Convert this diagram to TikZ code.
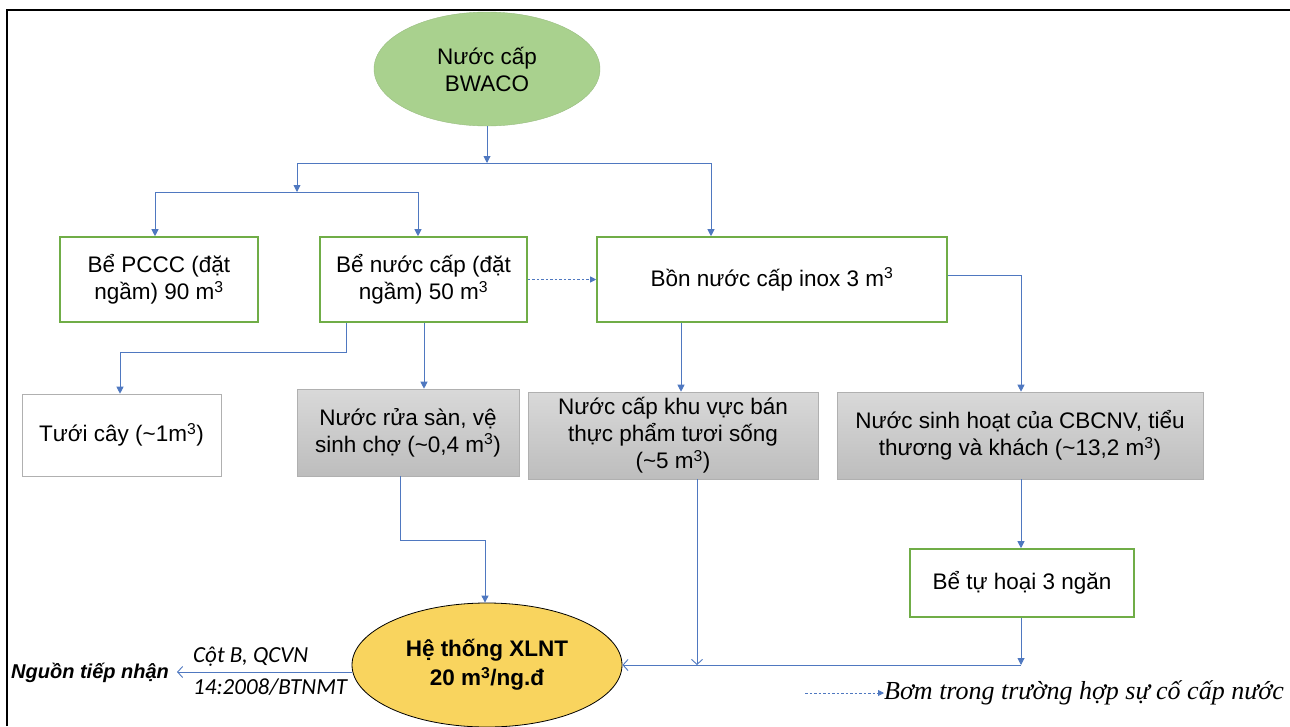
\documentclass[tikz,border=0pt]{standalone}
\usepackage{fontspec}
\setmainfont{Liberation Sans}
\newfontfamily\calib{Carlito}
\newfontfamily\timesf{Liberation Serif}
\usetikzlibrary{arrows.meta,shapes.geometric}
\definecolor{gborder}{HTML}{70AD47}
\definecolor{gfill}{HTML}{A9D18E}
\definecolor{ablue}{HTML}{4F78C0}
\definecolor{gtop}{HTML}{D9D9D9}
\definecolor{gbot}{HTML}{BDBDBD}
\definecolor{gline}{HTML}{B0B0B0}
\definecolor{yfill}{HTML}{F9D45E}
\tikzset{
  txt/.style={font=\fontsize{22.5}{27}\selectfont, align=center, inner sep=2pt},
  gbox/.style={txt, rectangle, draw=gborder, line width=1.6pt, fill=white},
  graybox/.style={txt, rectangle, draw=gline, line width=0.6pt, top color=gtop, bottom color=gbot},
  whitebox/.style={txt, rectangle, draw=gline, line width=0.6pt, fill=white},
  ln/.style={draw=ablue, line width=0.9pt},
  arr/.style={ln, -{Triangle[length=7pt,width=7pt]}},
  openarr/.style={ln, -{Straight Barb[length=5pt,width=11pt]}},
  dasharr/.style={ln, dash pattern=on 2.5pt off 2pt, -{Triangle[length=6pt,width=6pt]}},
}
\begin{document}
\begin{tikzpicture}[x=1pt,y=-1pt]
\useasboundingbox (0,0) rectangle (1290,726);
% frame
\draw[line width=2pt] (7,726) -- (7,10) -- (1290,10);

% nodes
\node[txt, ellipse, fill=gfill, draw=gfill!90!black, line width=0.4pt, minimum width=226pt, minimum height=114pt] (green) at (487,69) {Nước cấp\\BWACO};
\node[gbox, minimum width=198pt, minimum height=85pt] (pccc) at (159,279.5) {Bể PCCC (đặt\\ngầm) 90 m\textsuperscript{3}};
\node[gbox, minimum width=207pt, minimum height=85pt] (benuoc) at (423.5,279.5) {Bể nước cấp (đặt\\ngầm) 50 m\textsuperscript{3}};
\node[gbox, minimum width=350pt, minimum height=85pt] (bon) at (772,279.5) {Bồn nước cấp inox 3 m\textsuperscript{3}};
\node[whitebox, minimum width=199pt, minimum height=82pt] (tuoi) at (121.5,435) {Tưới cây (\textasciitilde1m\textsuperscript{3})};
\node[graybox, minimum width=222pt, minimum height=87pt] (ruasan) at (408,432.5) {Nước rửa sàn, vệ\\sinh chợ (\textasciitilde0,4 m\textsuperscript{3})};
\node[graybox, minimum width=290pt, minimum height=87pt] (khuvuc) at (673,435.5) {Nước cấp khu vực bán\\thực phẩm tươi sống\\(\textasciitilde5 m\textsuperscript{3})};
\node[graybox, minimum width=366pt, minimum height=87pt] (sinhhoat) at (1020,435.5) {Nước sinh hoạt của CBCNV, tiểu\\thương và khách (\textasciitilde13,2 m\textsuperscript{3})};
\node[gbox, minimum width=224pt, minimum height=68pt] (tuhoai) at (1022,583) {Bể tự hoại 3 ngăn};
\node[txt, ellipse, fill=yfill, draw=black, line width=0.8pt, minimum width=270pt, minimum height=124pt, font=\fontsize{22.5}{29}\selectfont\bfseries] (xlnt) at (487,665) {Hệ thống XLNT\\20 m\textsuperscript{3}/ng.đ};

\node[anchor=west, inner sep=0pt, font=\fontsize{20}{24}\selectfont\bfseries\itshape] (nguon) at (11,673) {Nguồn tiếp nhận};
\node[anchor=west, inner sep=0pt, font=\calib\fontsize{23}{26}\selectfont\itshape] (cot1) at (193,657) {Cột B, QCVN};
\node[anchor=west, inner sep=0pt, font=\calib\fontsize{23}{26}\selectfont\itshape] (cot2) at (193,687) {14:2008/BTNMT};
\node[anchor=west, inner sep=0pt, font=\timesf\fontsize{26}{30}\selectfont\itshape] (legtext) at (884,693) {Bơm trong trường hợp sự cố cấp nước};

% coordinates
\coordinate (a1) at (487,163);
\coordinate (h1l) at (297,163);
\coordinate (h1r) at (711,163);
\coordinate (h2) at (297,192);
\coordinate (h2l) at (155,192);
\coordinate (h2r) at (418,192);
\coordinate (b1) at (1021,275);
\coordinate (b2) at (681,322);
\coordinate (c1) at (346,352);
\coordinate (c2) at (120,352);
\coordinate (c3) at (424,352);
\coordinate (d1) at (400,540);
\coordinate (d2) at (485,540);
\coordinate (e1) at (697,665);
\coordinate (f1) at (1021,665);
\coordinate (g1) at (177,672);
\coordinate (leg1) at (805,693);

% connectors
\draw[arr] (green.south) -- (a1);
\draw[ln] (h1l) -- (h1r);
\draw[arr] (h1r) -- (bon.north -| h1r);
\draw[arr] (h1l) -- (h2);
\draw[ln] (h2l) -- (h2r);
\draw[arr] (h2l) -- (pccc.north -| h2l);
\draw[arr] (h2r) -- (benuoc.north -| h2r);
\draw[dasharr] (benuoc.east) -- (bon.west);
\draw[ln] (bon.east |- b1) -- (b1);
\draw[arr] (b1) -- (sinhhoat.north -| b1);
\draw[arr] (bon.south -| b2) -- (khuvuc.north -| b2);
\draw[arr] (benuoc.south -| c1) -- (c1) -- (c2) -- (tuoi.north -| c2);
\draw[arr] (benuoc.south -| c3) -- (ruasan.north -| c3);
\draw[arr] (ruasan.south -| d1) -- (d1) -- (d2) -- (xlnt.north -| d2);
\draw[openarr] (khuvuc.south -| e1) -- (e1);
\draw[arr] (sinhhoat.south -| b1) -- (tuhoai.north -| b1);
\draw[arr] (tuhoai.south -| f1) -- (f1);
\draw[openarr] (f1) -- (xlnt.east);
\draw[openarr] (xlnt.west |- g1) -- (g1);
\draw[dasharr] (leg1) -- (legtext.west);
\end{tikzpicture}
\end{document}
